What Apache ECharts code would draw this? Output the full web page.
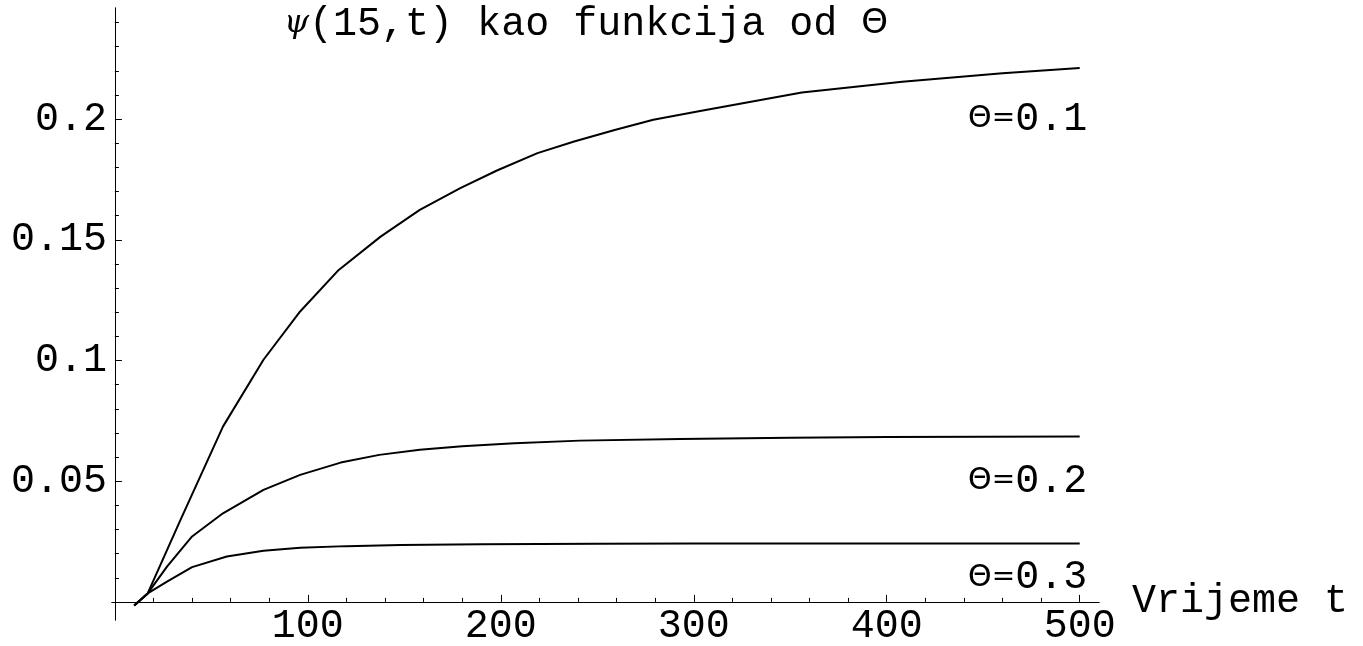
<!DOCTYPE html>
<html>
<head>
<meta charset="utf-8">
<script src="https://cdn.jsdelivr.net/npm/echarts@6/dist/echarts.min.js"></script>
<style>
  html, body { margin: 0; padding: 0; background: #fff; }
  #chart { width: 1363px; height: 646px; }
</style>
</head>
<body>
<div id="chart"></div>
<script>
// ---- data ----
const t01   = [10, 17, 34, 56, 77, 96, 116, 137.7, 158, 179, 198, 219, 238, 259, 279, 304, 356, 408, 460, 500];
const psi01 = [-0.0015, 0.0035, 0.034, 0.0726, 0.1003, 0.1203, 0.1375, 0.1513, 0.1624, 0.1714, 0.1787, 0.1859, 0.1907, 0.1955, 0.1997, 0.2034, 0.211, 0.2155, 0.219, 0.2211];

const t02   = [10, 17, 27, 40, 56, 77, 96, 117, 137, 158, 180, 207, 241, 293, 350, 400, 500];
const psi02 = [-0.0015, 0.0035, 0.0146, 0.0271, 0.0367, 0.0464, 0.0526, 0.0577, 0.0609, 0.063, 0.0645, 0.0657, 0.0668, 0.0675, 0.068, 0.0683, 0.0685];

const t03   = [10, 17, 27, 40, 58, 77, 96, 120, 148, 190, 250, 300, 400, 500];
const psi03 = [-0.0015, 0.0035, 0.0084, 0.0144, 0.0188, 0.0212, 0.0224, 0.0231, 0.0236, 0.0239, 0.0241, 0.0242, 0.0242, 0.0242];

const xMajorTicks = [100, 200, 300, 400, 500];
const xMinorTicks = [20, 40, 60, 80, 120, 140, 160, 180, 220, 240, 260, 280, 320, 340, 360, 380, 420, 440, 460, 480];
const yMajorTicks = [0.05, 0.1, 0.15, 0.2];
const yMinorTicks = [0.01, 0.02, 0.03, 0.04, 0.06, 0.07, 0.08, 0.09, 0.11, 0.12, 0.13, 0.14, 0.16, 0.17, 0.18, 0.19, 0.21, 0.22, 0.23, 0.24];

const curveLabels = ['0.1', '0.2', '0.3'];
const curveLabelT = [473, 473, 473];
const curveLabelV = [0.2, 0.05, 0.01];

const titleText = '{psi|ψ}(15,t) kao funkcija od {th|Θ}';
const xName = 'Vrijeme t';

// ---- chart ----
const FONT = '"Liberation Mono", "DejaVu Sans Mono", monospace';
const zip = (a, b) => a.map((v, i) => [v, b[i]]);

const lineSeries = (t, v) => ({
  type: 'line',
  data: zip(t, v),
  showSymbol: false,
  symbol: 'none',
  smooth: false,
  clip: false,
  lineStyle: { color: '#000', width: 2 },
  xAxisIndex: 0,
  yAxisIndex: 0,
  silent: true
});

const X_MIN = -1.5, X_MAX = 510, Y_MIN = -0.0075, Y_MAX = 0.246;

const option = {
  animation: false,
  backgroundColor: '#fff',
  title: {
    text: titleText,
    left: 279,
    top: -1,
    textStyle: {
      fontFamily: FONT,
      fontSize: 40,
      fontWeight: 'normal',
      color: '#000',
      rich: {
        psi: { fontFamily: '"DejaVu Serif", serif', fontStyle: 'italic', fontSize: 32, color: '#000' },
        th: { fontFamily: '"DejaVu Sans", sans-serif', fontSize: 34, color: '#000' }
      }
    }
  },
  grid: { left: 112, top: 8, width: 987, height: 612, containLabel: false, outerBoundsMode: 'none' },
  xAxis: [
    {
      type: 'value', min: X_MIN, max: X_MAX, position: 'bottom',
      axisLine: { show: true, onZero: true, lineStyle: { color: '#000', width: 1 } },
      axisTick: { show: true, inside: true, length: 7, customValues: xMajorTicks, lineStyle: { color: '#000', width: 1 } },
      axisLabel: { show: true, customValues: xMajorTicks, fontFamily: FONT, fontSize: 40, color: '#000', margin: -14 },
      splitLine: { show: false },
      name: xName, nameLocation: 'end', nameGap: 33,
      nameTextStyle: { fontFamily: FONT, fontSize: 40, color: '#000', verticalAlign: 'middle', align: 'left', padding: [10, 0, 0, 0] }
    },
    {
      type: 'value', min: X_MIN, max: X_MAX, position: 'bottom',
      axisLine: { show: true, onZero: true, lineStyle: { color: '#000', width: 1 } },
      axisTick: { show: true, inside: true, length: 4, customValues: xMinorTicks, lineStyle: { color: '#000', width: 1 } },
      axisLabel: { show: false },
      splitLine: { show: false }
    }
  ],
  yAxis: [
    {
      type: 'value', min: Y_MIN, max: Y_MAX, position: 'left',
      axisLine: { show: true, onZero: true, lineStyle: { color: '#000', width: 1 } },
      axisTick: { show: true, inside: true, length: 7, customValues: yMajorTicks, lineStyle: { color: '#000', width: 1 } },
      axisLabel: { show: true, customValues: yMajorTicks, fontFamily: FONT, fontSize: 40, color: '#000', margin: 5 },
      splitLine: { show: false }
    },
    {
      type: 'value', min: Y_MIN, max: Y_MAX, position: 'left',
      axisLine: { show: true, onZero: true, lineStyle: { color: '#000', width: 1 } },
      axisTick: { show: true, inside: true, length: 4, customValues: yMinorTicks, lineStyle: { color: '#000', width: 1 } },
      axisLabel: { show: false },
      splitLine: { show: false }
    }
  ],
  series: [
    lineSeries(t01, psi01),
    lineSeries(t02, psi02),
    lineSeries(t03, psi03),
    {
      type: 'scatter',
      xAxisIndex: 0, yAxisIndex: 0,
      symbolSize: 0,
      silent: true,
      itemStyle: { opacity: 1, color: '#000' },
      data: curveLabels.map((s, i) => [curveLabelT[i], curveLabelV[i], s]),
      label: {
        show: true,
        position: 'inside',
        align: 'center',
        verticalAlign: 'middle',
        color: '#000',
        opacity: 1,
        formatter: p => '{th|Θ}{eq|=}{num|' + p.data[2] + '}',
        rich: {
          th: { fontFamily: '"DejaVu Sans", sans-serif', fontSize: 30, color: '#000' },
          eq: { fontFamily: '"DejaVu Sans", sans-serif', fontSize: 28, color: '#000' },
          num: { fontFamily: FONT, fontSize: 40, color: '#000' }
        }
      }
    }
  ]
};

const chart = echarts.init(document.getElementById('chart'), null, { renderer: 'canvas' });
chart.setOption(option);
</script>
</body>
</html>
